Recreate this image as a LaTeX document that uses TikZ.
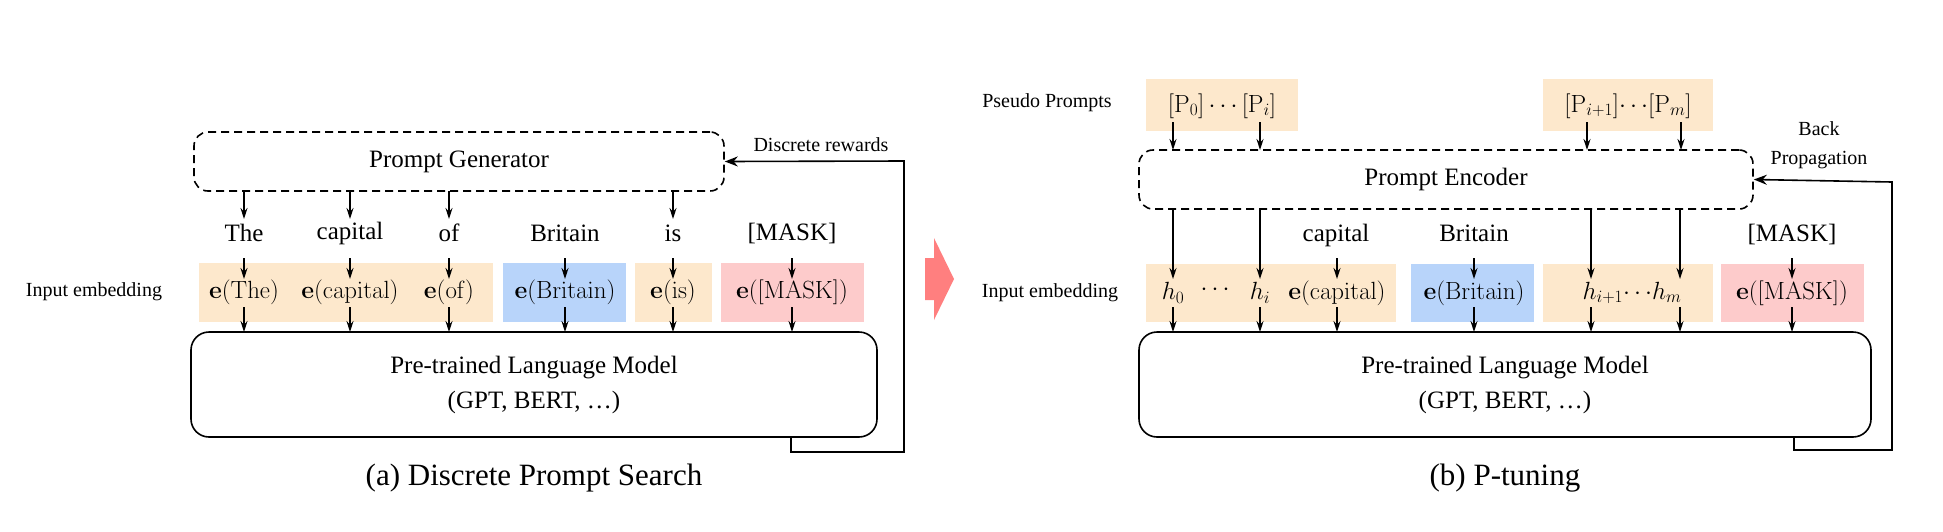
\documentclass[tikz,border=0pt]{standalone}
\usepackage[no-math]{fontspec}
\setmainfont{Liberation Serif}
\usetikzlibrary{arrows.meta}
\definecolor{org}{HTML}{FDE8CC}
\definecolor{blu}{HTML}{B8D4FA}
\definecolor{pnk}{HTML}{FDCBCB}
\definecolor{redarr}{HTML}{FF7F7F}
\begin{document}
\begin{tikzpicture}[x=1pt,y=-1pt,
  ar/.style={-{Stealth[length=11pt,width=7pt]},line width=1.3pt},
  dbox/.style={draw,dash pattern=on 8pt off 5pt,line width=1.6pt,rounded corners=14pt},
  pbox/.style={draw,line width=1.6pt,rounded corners=18pt},
  main/.style={font=\fontsize{25}{29}\selectfont},
  lab/.style={font=\fontsize{20}{23}\selectfont},
  captxt/.style={font=\fontsize{31}{35}\selectfont}]
\useasboundingbox (0,0) rectangle (1943,531);
% ---------- left panel ----------
\fill[org] (199,263) rectangle (493,322);
\fill[blu] (503,263) rectangle (626,322);
\fill[org] (635,263) rectangle (712,322);
\fill[pnk] (721,263) rectangle (864,322);
\node[dbox,minimum width=530pt,minimum height=59pt,main] (pg) at (459,161.5) {Prompt Generator};
\node[pbox,minimum width=686pt,minimum height=105pt,align=center,main] (plm) at (534,384.5) {Pre-trained Language Model\\[6pt](GPT, BERT, \dots)};
\node[lab] (ie1) at (94,292) {Input embedding};
\node[lab] (dr) at (821,145) {Discrete rewards};
\foreach \n/\x/\w/\e in {a/244/The/{$\mathbf{e}(\mathrm{The})$},b/350/capital/{$\mathbf{e}(\mathrm{capital})$},c/449/of/{$\mathbf{e}(\mathrm{of})$},d/565/Britain/{$\mathbf{e}(\mathrm{Britain})$},e/673/is/{$\mathbf{e}(\mathrm{is})$},f/792/{[MASK]}/{$\mathbf{e}(\mathrm{[MASK]})$}}{
  \node[main,inner sep=1pt] (w\n) at (\x,233) {\w};
  \node[main,inner sep=1pt] (e\n) at (\x,292) {\e};
  \coordinate (wt\n) at (\x,258); \coordinate (wb\n) at (\x,279);
  \coordinate (et\n) at (\x,307); \coordinate (eb\n) at (\x,332);
  \draw[ar] (wt\n) -- (wb\n);
  \draw[ar] (et\n) -- (eb\n);
}
\foreach \n/\x in {a/244,b/350,c/449,e/673}{
  \coordinate (gt\n) at (\x,191); \coordinate (gb\n) at (\x,219);
  \draw[ar] (gt\n) -- (gb\n);
}
\coordinate (f1) at (791,437); \coordinate (f2) at (791,452); \coordinate (f3) at (904,452); \coordinate (f4) at (904,161);
\draw[line width=1.6pt,-{Stealth[length=13pt,width=10pt]}] (f1) -- (f2) -- (f3) -- (f4) -- (pg.east);
\node[captxt] (ca) at (534,478) {(a) Discrete Prompt Search};
% ---------- red arrow ----------
\fill[redarr] (925,258) -- (934,258) -- (934,238) -- (954,279) -- (934,320) -- (934,300) -- (925,300) -- cycle;
% ---------- right panel ----------
\fill[org] (1146,79) rectangle (1298,131);
\fill[org] (1543,79) rectangle (1713,131);
\fill[org] (1146,264) rectangle (1396,322);
\fill[blu] (1411,264) rectangle (1534,322);
\fill[org] (1543,264) rectangle (1713,322);
\fill[pnk] (1721,264) rectangle (1864,322);
\node[lab] (pp) at (1047,103) {Pseudo Prompts};
\node[main] (p1) at (1222,106) {$[\mathrm{P}_0]\cdots[\mathrm{P}_i]$};
\node[main] (p2) at (1628,106) {$[\mathrm{P}_{i+1}]{\cdots}[\mathrm{P}_m]$};
\node[dbox,minimum width=614pt,minimum height=59pt,main] (pe) at (1446,179.5) {Prompt Encoder};
\node[pbox,minimum width=732pt,minimum height=105pt,align=center,main] (plm2) at (1505,384.5) {Pre-trained Language Model\\[6pt](GPT, BERT, \dots)};
\node[lab] (ie2) at (1050,293) {Input embedding};
\node[lab,align=center] (bp) at (1819,145) {Back\\[6pt]Propagation};
\node[main] (h0) at (1173,293) {$h_0$};
\node[main] (d1) at (1215,290) {$\cdots$};
\node[main] (hi) at (1260,293) {$h_i$};
\node[main,inner sep=1pt] (ec) at (1337,293) {$\mathbf{e}(\mathrm{capital})$};
\node[main,inner sep=1pt] (eB) at (1474,293) {$\mathbf{e}(\mathrm{Britain})$};
\node[main] (h1) at (1632,293) {$h_{i+1}{\cdots}h_m$};
\node[main,inner sep=1pt] (eM) at (1792,293) {$\mathbf{e}(\mathrm{[MASK]})$};
\node[main] (wc) at (1336,235) {capital};
\node[main] (wB) at (1474,233) {Britain};
\node[main] (wM) at (1792,234) {[MASK]};
\foreach \n/\x in {a/1173,b/1260,c/1587,d/1681}{
  \coordinate (pt\n) at (\x,122); \coordinate (pb\n) at (\x,150);
  \draw[ar] (pt\n) -- (pb\n);
}
\foreach \n/\x in {a/1173,b/1260,c/1591,d/1680}{
  \coordinate (qt\n) at (\x,209); \coordinate (qb\n) at (\x,279);
  \draw[ar] (qt\n) -- (qb\n);
}
\foreach \n/\x in {c/1337,B/1474,M/1792}{
  \coordinate (rt\n) at (\x,258); \coordinate (rb\n) at (\x,279);
  \draw[ar] (rt\n) -- (rb\n);
}
\foreach \n/\x in {a/1173,b/1260,c/1337,B/1474,d/1591,e/1680,M/1792}{
  \coordinate (st\n) at (\x,307); \coordinate (sb\n) at (\x,332);
  \draw[ar] (st\n) -- (sb\n);
}
\coordinate (g1) at (1794,437); \coordinate (g2) at (1794,450); \coordinate (g3) at (1892,450); \coordinate (g4) at (1892,182);
\draw[line width=1.6pt,-{Stealth[length=13pt,width=10pt]}] (g1) -- (g2) -- (g3) -- (g4) -- (pe.east);
\node[captxt] (cb) at (1505,478) {(b) P-tuning};
\end{tikzpicture}
\end{document}
